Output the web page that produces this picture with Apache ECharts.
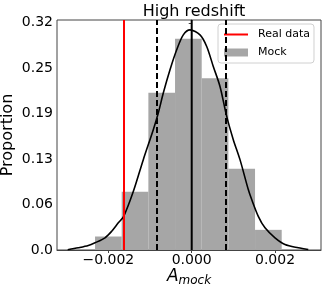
<!DOCTYPE html>
<html>
<head>
<meta charset="utf-8">
<script src="https://cdn.jsdelivr.net/npm/echarts@6/dist/echarts.min.js"></script>
<style>
html,body{margin:0;padding:0;background:#fff;}
#chart{width:324px;height:289px;}
</style>
</head>
<body>
<div id="chart"></div>
<script>
// ---- data ----
var binEdges = [-0.00232, -0.00168, -0.00104, -0.00040, 0.00024, 0.00088, 0.00152, 0.00216];
var binProportions = [0.0189, 0.0814, 0.2202, 0.2956, 0.2404, 0.1139, 0.0282];
var curveX = [-0.002976, -0.002722, -0.002482, -0.002321, -0.002081, -0.00192, -0.001762, -0.001632,
  -0.001402, -0.001162, -0.000922, -0.000802, -0.000682, -0.000521, -0.00036, -0.000202, -0.000041,
  0.000199, 0.00036, 0.000518, 0.000679, 0.00084, 0.000998, 0.001159, 0.001358, 0.00144, 0.001598,
  0.001759, 0.001999, 0.002239, 0.002558, 0.002798];
var curveY = [0.0003, 0.0031, 0.0063, 0.0101, 0.0171, 0.0263, 0.0380, 0.0472,
  0.0818, 0.1265, 0.1684, 0.1918, 0.2197, 0.2523, 0.2803, 0.3012, 0.3082,
  0.3012, 0.2849, 0.2569, 0.2290, 0.1870, 0.1545, 0.1265, 0.0846, 0.0706, 0.0472,
  0.0310, 0.0171, 0.0077, 0.0031, 0.0007];
var realDataValue = -0.001625;
var mockMedian = 0.0;
var mockLower = -0.000833;
var mockUpper = 0.000823;
var xTickValues = [-0.002, 0.0, 0.002];
var yTickValues = [0, 0.0636, 0.1272, 0.1908, 0.2544, 0.318];
var titleText = 'High redshift';
var yAxisName = 'Proportion';

// ---- build ----
var X_MIN = -0.003233, X_MAX = 0.003103, Y_MIN = 0, Y_MAX = 0.322;
var barData = [];
for (var i = 0; i < binProportions.length; i++) {
  barData.push([binEdges[i], binEdges[i + 1], binProportions[i]]);
}
var curveData = curveX.map(function (x, i) { return [x, curveY[i]]; });
function vline(v) { return [[v, Y_MIN], [v, Y_MAX]]; }

var FONT = 'DejaVu Sans';
function vSeries(name, v, color, type) {
  return {
    name: name, type: 'line', z: 4, data: vline(v),
    showSymbol: false, symbol: 'none', silent: true,
    lineStyle: {color: color, width: 2, type: type},
    itemStyle: {color: color}
  };
}
var chart = echarts.init(document.getElementById('chart'), null, {renderer: 'canvas'});
chart.setOption({
  animation: false,
  backgroundColor: '#fff',
  title: {
    text: titleText,
    left: 189, textAlign: 'center',
    top: -1,
    textStyle: {fontFamily: FONT, fontSize: 16, fontWeight: 'normal', color: '#000'}
  },
  legend: {
    data: [{name: 'Real data', itemStyle: {opacity: 0}}, {name: 'Mock', icon: 'rect'}],
    orient: 'vertical',
    left: 218, top: 24,
    padding: [5, 4, 5, 5],
    itemWidth: 24, itemHeight: 8, itemGap: 7,
    borderColor: '#d0d0d0', borderWidth: 1, borderRadius: 3,
    backgroundColor: 'rgba(255,255,255,0.8)',
    textStyle: {fontFamily: FONT, fontSize: 11, color: '#000', padding: [0, 0, 0, 5]}
  },
  grid: {
    left: 57, right: 3, top: 20, bottom: 39,
    containLabel: false, outerBoundsMode: 'none',
    show: true, borderColor: '#444', borderWidth: 1, backgroundColor: '#fff'
  },
  xAxis: {
    type: 'value',
    min: X_MIN, max: X_MAX,
    name: '{a|A}{s|mock}',
    nameLocation: 'middle',
    nameGap: 17,
    nameMoveOverlap: false,
    nameTextStyle: {
      rich: {
        a: {fontFamily: FONT, fontSize: 17, fontStyle: 'italic', color: '#000'},
        s: {fontFamily: FONT, fontSize: 12, fontStyle: 'italic', color: '#000', padding: [8, 0, 0, 0]}
      }
    },
    axisLine: {show: true, onZero: false, lineStyle: {color: '#444', width: 1}},
    axisTick: {show: true, inside: false, length: 3, customValues: xTickValues, lineStyle: {color: '#444'}},
    axisLabel: {
      customValues: xTickValues,
      margin: 3,
      fontFamily: FONT, fontSize: 14, color: '#000',
      formatter: function (v) {
        if (Math.abs(v) < 1e-12) return '0.000';
        var s = Math.abs(v).toFixed(3);
        return v < 0 ? '\u2212' + s : s;
      }
    },
    splitLine: {show: false}
  },
  yAxis: {
    type: 'value',
    min: Y_MIN, max: Y_MAX,
    name: yAxisName,
    nameLocation: 'middle',
    nameGap: 41,
    nameMoveOverlap: false,
    nameTextStyle: {fontFamily: FONT, fontSize: 16, color: '#000'},
    axisLine: {show: true, lineStyle: {color: '#444', width: 1}},
    axisTick: {show: true, inside: false, length: 3, customValues: yTickValues, lineStyle: {color: '#444'}},
    axisLabel: {
      customValues: yTickValues,
      margin: 4,
      fontFamily: FONT, fontSize: 14, color: '#000',
      formatter: function (v) { return v === 0 ? '0.0' : v.toFixed(2); }
    },
    splitLine: {show: false}
  },
  series: [
    {
      name: 'Mock',
      type: 'custom',
      z: 1,
      itemStyle: {color: '#a6a6a6'},
      data: barData,
      encode: {x: [0, 1], y: 2},
      renderItem: function (params, api) {
        var p0 = api.coord([api.value(0), api.value(2)]);
        var p1 = api.coord([api.value(1), 0]);
        return {
          type: 'rect',
          shape: {x: p0[0], y: p0[1], width: p1[0] - p0[0], height: p1[1] - p0[1]},
          style: {fill: '#a6a6a6'}
        };
      }
    },
    {
      name: 'curve',
      type: 'line',
      z: 3,
      data: curveData,
      smooth: 0.3,
      showSymbol: false, symbol: 'none', silent: true,
      lineStyle: {color: '#000', width: 1.6},
      itemStyle: {color: '#000'}
    },
    vSeries('median', mockMedian, '#000', 'solid'),
    vSeries('lower', mockLower, '#000', [6, 3]),
    vSeries('upper', mockUpper, '#000', [6, 3]),
    vSeries('Real data', realDataValue, '#ff0000', 'solid')
  ]
});
</script>
</body>
</html>
